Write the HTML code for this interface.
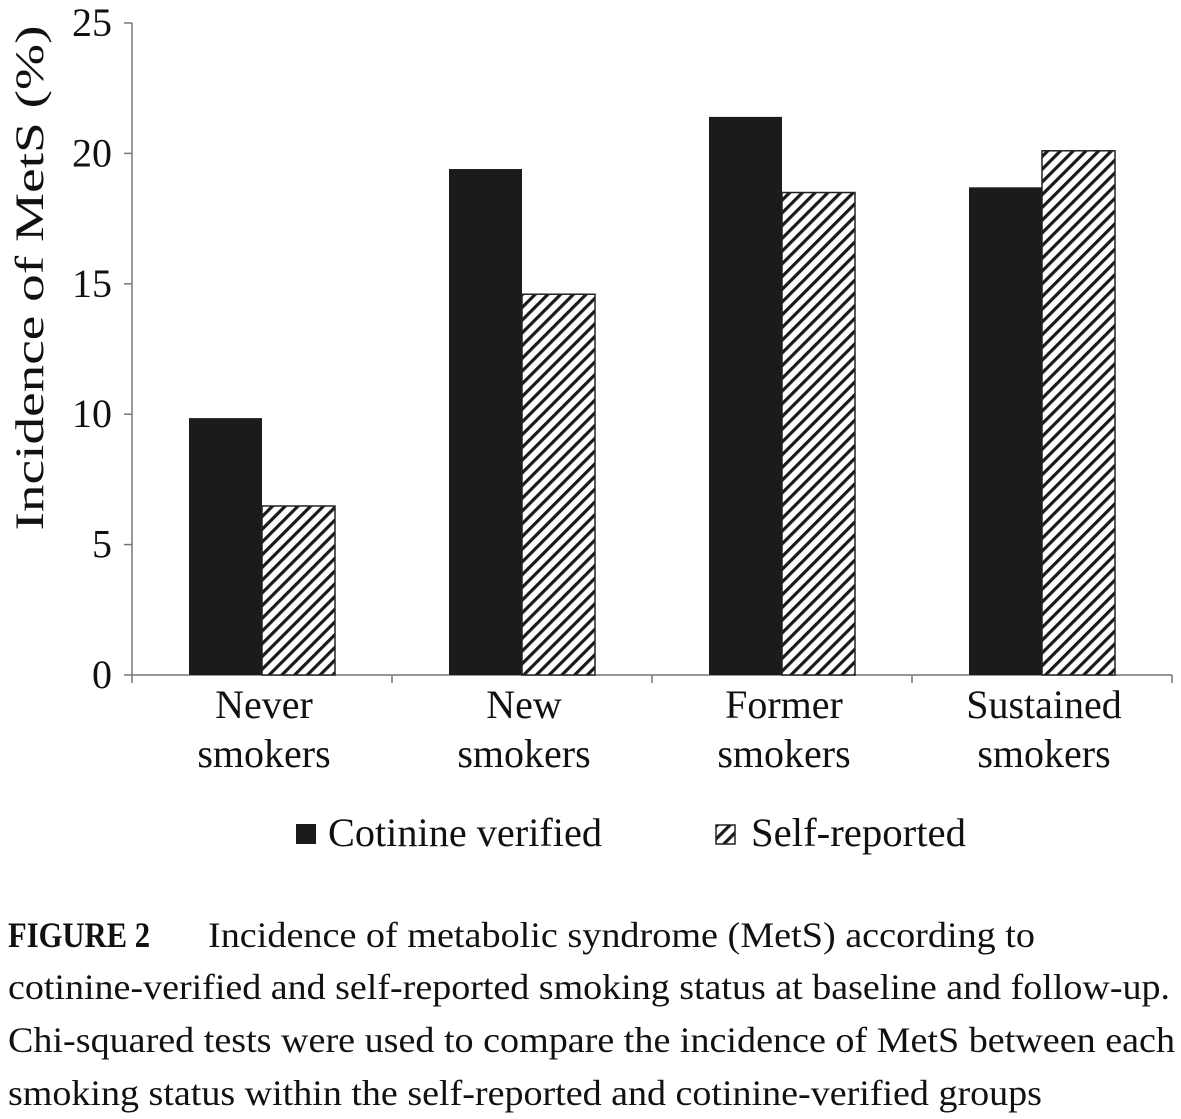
<!DOCTYPE html>
<html><head><meta charset="utf-8"><style>
body{margin:0;background:#fff;width:1181px;height:1119px;overflow:hidden;font-family:"Liberation Serif",serif;}
svg{position:absolute;left:0;top:0}
</style></head><body>
<svg id="chart" width="1181" height="1119" font-family="Liberation Serif, serif">
<defs><pattern id="hatch" patternUnits="userSpaceOnUse" width="9" height="9" patternTransform="rotate(45)">
<rect width="9" height="9" fill="#fff"/><rect width="3.2" height="9" fill="#1a1a1a"/></pattern></defs>
<g id="axes"></g><g id="bars"></g><g id="legend"></g>
<g font-size="36" fill="#111">
<text x="8" y="947" font-weight="bold" textLength="142" lengthAdjust="spacingAndGlyphs">FIGURE 2</text>
<text x="208" y="947" textLength="827" lengthAdjust="spacingAndGlyphs">Incidence of metabolic syndrome (MetS) according to</text>
<text x="8" y="999" textLength="1162" lengthAdjust="spacingAndGlyphs">cotinine-verified and self-reported smoking status at baseline and follow-up.</text>
<text x="8" y="1052" textLength="1167" lengthAdjust="spacingAndGlyphs">Chi-squared tests were used to compare the incidence of MetS between each</text>
<text x="8" y="1105" textLength="1034" lengthAdjust="spacingAndGlyphs">smoking status within the self-reported and cotinine-verified groups</text>
</g>
</svg>
<script>
const categories=[["Never","smokers"],["New","smokers"],["Former","smokers"],["Sustained","smokers"]];
const cotinine=[9.85,19.4,21.4,18.7];
const selfReported=[6.48,14.6,18.5,20.1];
const yTicks=[0,5,10,15,20,25];
const NS="http://www.w3.org/2000/svg";
const x0=132,x1=1172,yBase=675,yTop=23,yMax=25;
const y=v=>yBase-(v/yMax)*(yBase-yTop);
const cw=(x1-x0)/categories.length;
function mk(t,a,p){const e=document.createElementNS(NS,t);for(const k in a)e.setAttribute(k,a[k]);p.appendChild(e);return e;}
const ax=document.getElementById('axes'),bg=document.getElementById('bars'),lg=document.getElementById('legend');
let e=mk('line',{x1:x0,y1:yTop,x2:x0,y2:yBase,stroke:'#777','stroke-width':1.5},ax);

e=mk('line',{x1:x0,y1:yBase,x2:x1,y2:yBase,stroke:'#777','stroke-width':1.5},ax);

yTicks.forEach(t=>{mk('line',{x1:x0-8,x2:x0,y1:y(t),y2:y(t),stroke:'#777','stroke-width':1.5},ax);
const tx=mk('text',{x:112,y:y(t)+13,'text-anchor':'end','font-size':40,fill:'#111'},ax);tx.textContent=t;
});
for(let i=0;i<=categories.length;i++)mk('line',{x1:x0+i*cw,x2:x0+i*cw,y1:yBase,y2:yBase+8,stroke:'#777','stroke-width':1.5},ax);
const t=mk('text',{x:0,y:0,transform:'translate(43,278) rotate(-90)','text-anchor':'middle','font-size':40,fill:'#111',textLength:505,lengthAdjust:'spacingAndGlyphs'},ax);
t.textContent='Incidence of MetS (%)';

const bw=73;
categories.forEach((c,i)=>{const cx=x0+i*cw+cw/2;
let r=mk('rect',{x:cx-bw,y:y(cotinine[i]),width:bw,height:yBase-y(cotinine[i]),fill:'#1d1a1a'},bg);

r=mk('rect',{x:cx,y:y(selfReported[i]),width:bw,height:yBase-y(selfReported[i]),fill:'url(#hatch)',stroke:'#222','stroke-width':1.5},bg);

c.forEach((s,j)=>{const tx=mk('text',{x:cx+2,y:718+j*49,'text-anchor':'middle','font-size':40,fill:'#111'},ax);tx.textContent=s;
});});
let g=mk('g',{},lg);
mk('rect',{x:296,y:824,width:20,height:20,fill:'#1d1a1a'},g);
let lt=mk('text',{x:328,y:846,'font-size':40,fill:'#111',textLength:274,lengthAdjust:'spacingAndGlyphs'},g);lt.textContent='Cotinine verified';
g=mk('g',{},lg);
mk('rect',{x:716,y:825,width:19,height:19,fill:'url(#hatch)',stroke:'#222','stroke-width':1.5},g);
lt=mk('text',{x:751,y:846,'font-size':40,fill:'#111',textLength:215,lengthAdjust:'spacingAndGlyphs'},g);lt.textContent='Self-reported';
</script>
</body></html>
